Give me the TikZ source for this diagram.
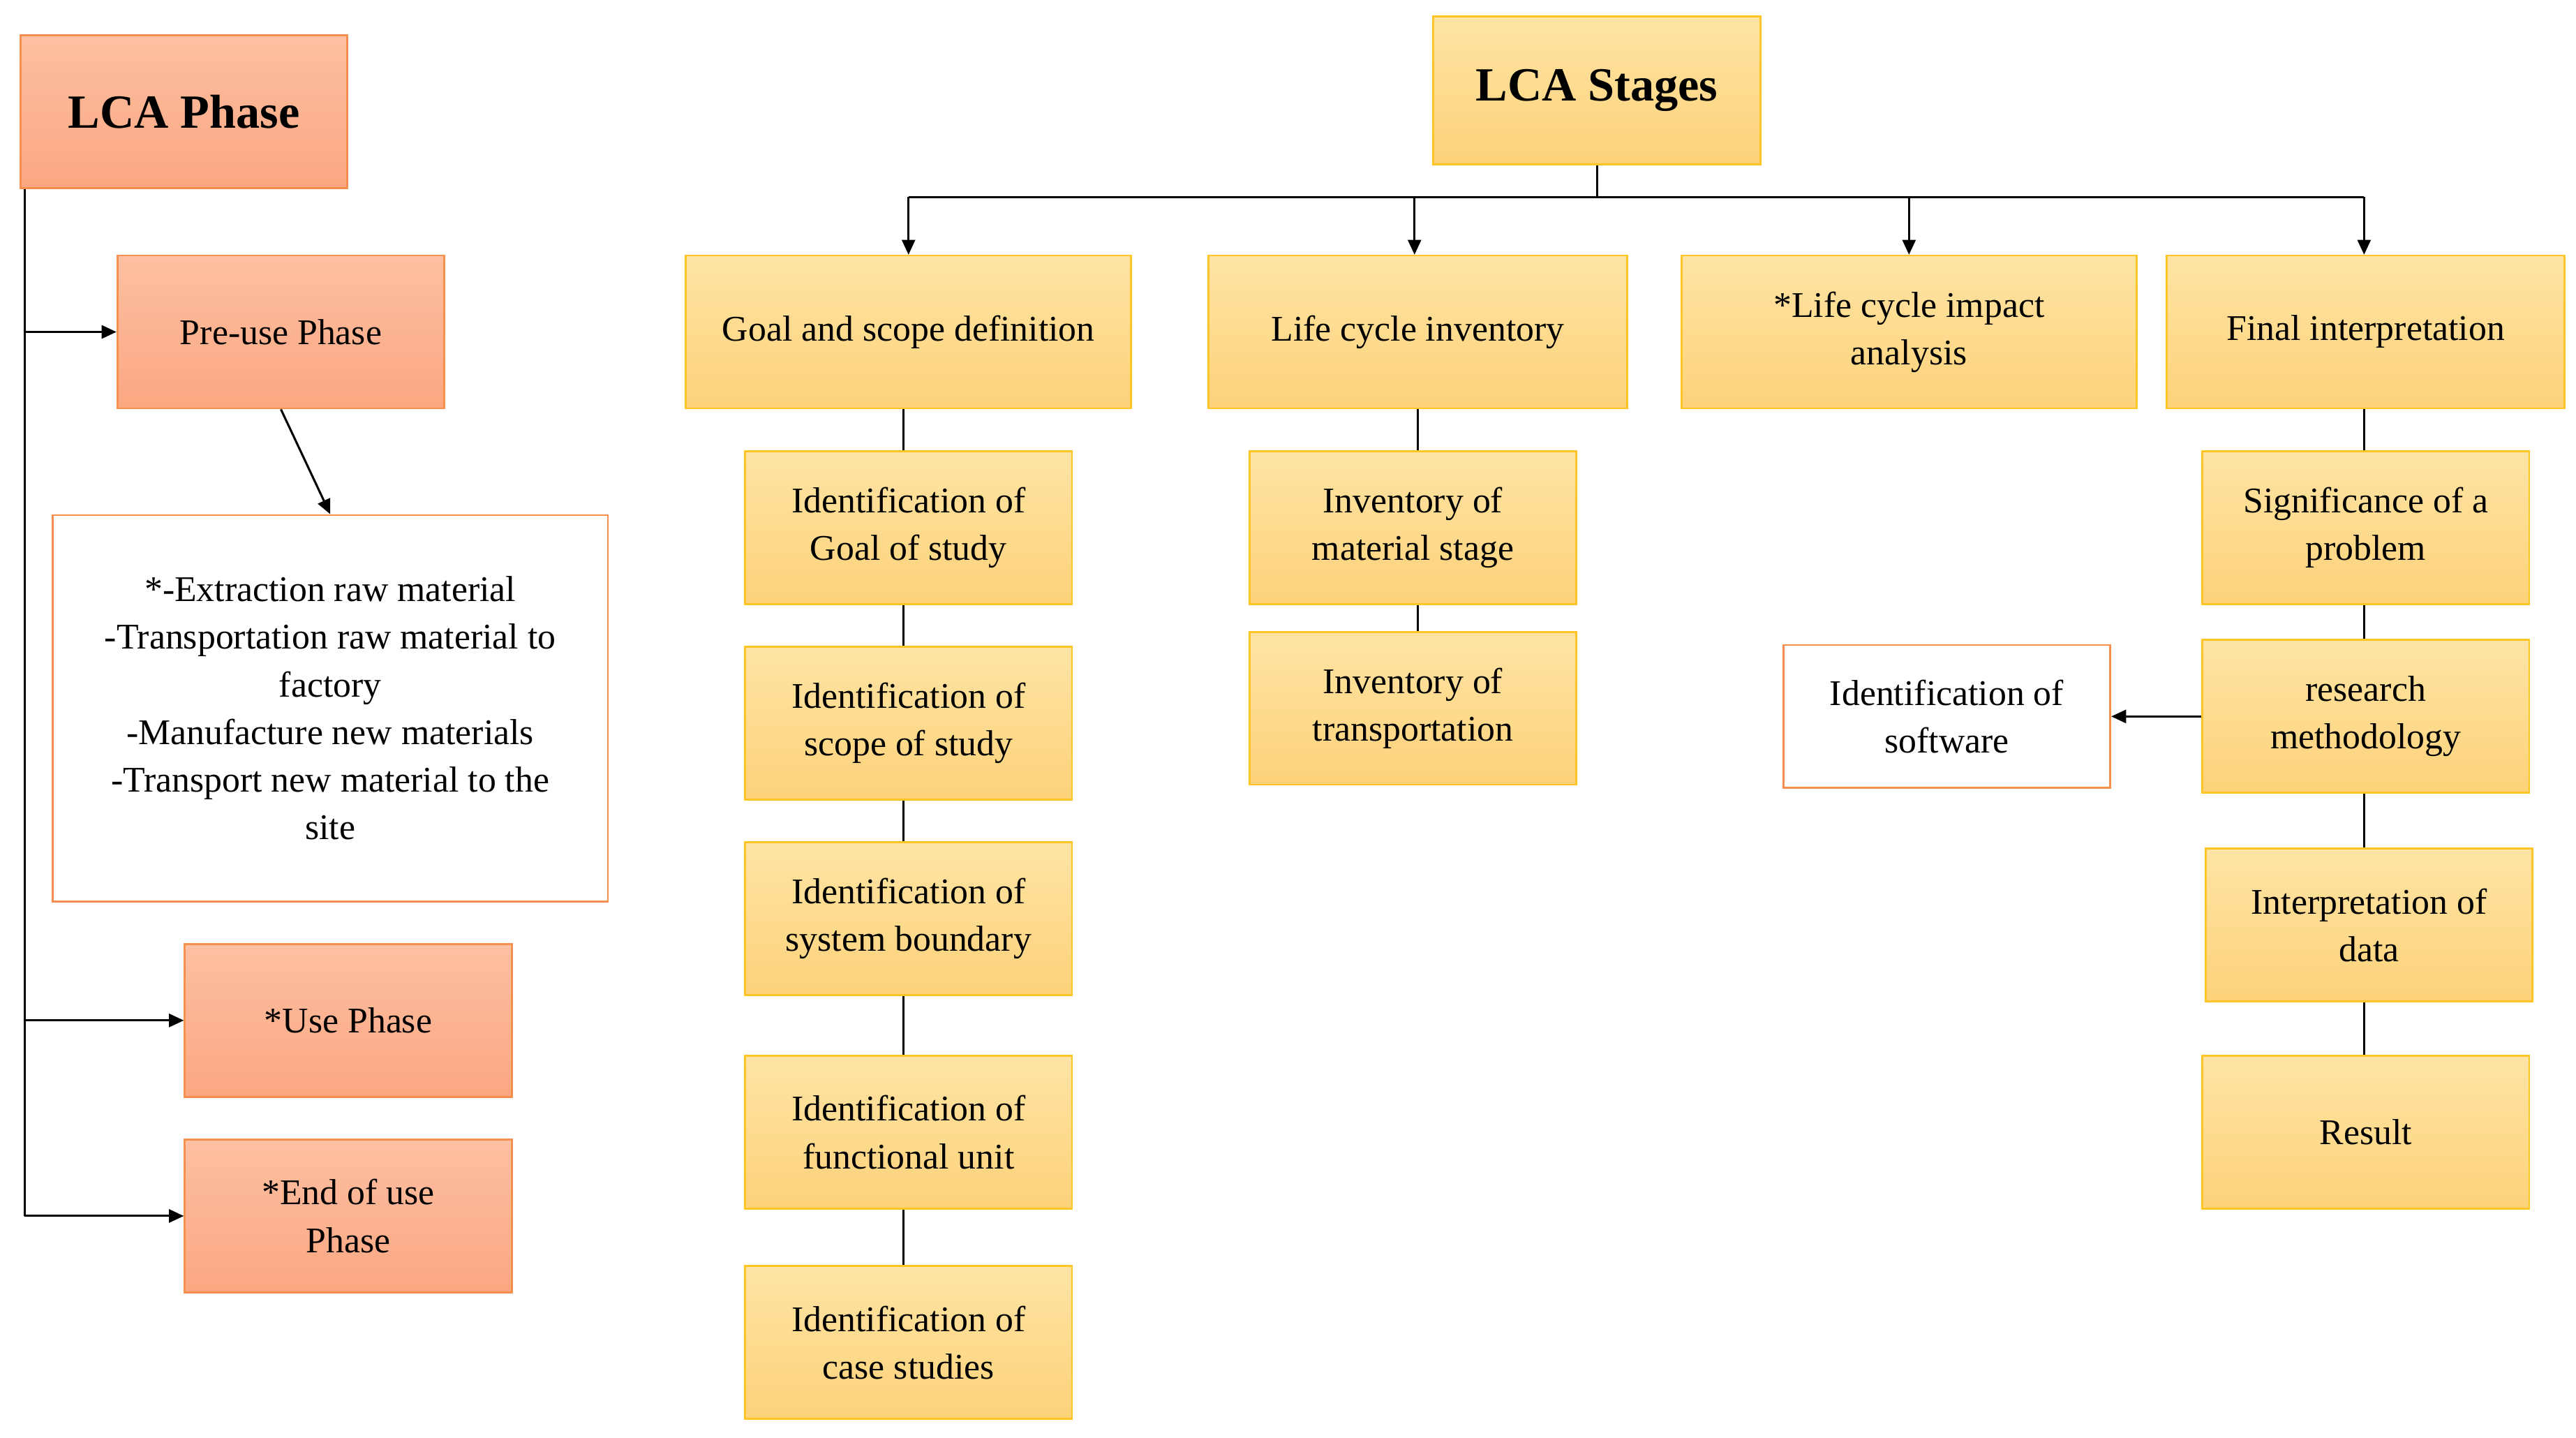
\documentclass[tikz,border=0pt]{standalone}
\usepackage{fontspec}
\setmainfont{Liberation Serif}
\usetikzlibrary{arrows.meta,positioning}
\definecolor{salmonTop}{HTML}{FDC0A2}
\definecolor{salmonBot}{HTML}{FBA681}
\definecolor{salmonLine}{HTML}{F7904E}
\definecolor{goldTop}{HTML}{FEE4A4}
\definecolor{goldBot}{HTML}{FDD27A}
\definecolor{goldLine}{HTML}{FFC526}
\begin{document}
\begin{tikzpicture}[
  x=1pt, y=-1pt,
  >={Triangle[length=9pt,width=8pt]},
  box/.style={draw, line width=1.2pt, align=center, inner sep=2pt,
    font=\fontsize{22}{29}\selectfont, minimum width=199pt, minimum height=93pt},
  phase/.style={box, draw=salmonLine, top color=salmonTop, bottom color=salmonBot},
  stage/.style={box, draw=goldLine, top color=goldTop, bottom color=goldBot},
  note/.style={box, draw=salmonLine, fill=white},
  link/.style={line width=1.3pt},
]
  \useasboundingbox (0,0) rectangle (1568,875);

  % LCA phase side
  \node[phase, font=\fontsize{29}{34}\selectfont\bfseries] (lcaphase) at (112,68) {LCA Phase};
  \node[phase] (preuse) at (171,202) {Pre-use Phase};
  \node[note, minimum width=338pt, minimum height=235pt] (preuselist) at (201,431)
    {*-Extraction raw material\\-Transportation raw material to\\factory\\-Manufacture new materials\\-Transport new material to the\\site};
  \node[phase] (use) at (212,621) {*Use Phase};
  \node[phase] (endofuse) at (212,740) {*End of use\\Phase};

  \coordinate (spine) at (15,115);
  \draw[link] (spine) -- (15,740);
  \draw[link,->] (15,202) -- (preuse.west);
  \draw[link,->] (15,621) -- (use.west);
  \draw[link,->] (15,740) -- (endofuse.west);
  \draw[link,->] (preuse.south) -- (preuselist.north);

  % LCA stages side
  \node[stage, font=\fontsize{29}{34}\selectfont\bfseries, minimum height=90pt] (lcastages) at (972,55) {LCA Stages};
  \node[stage, minimum width=271pt] (goal) at (553,202) {Goal and scope definition};
  \node[stage, minimum width=255pt] (inventory) at (863,202) {Life cycle inventory};
  \node[stage, minimum width=277pt] (impact) at (1162,202) {*Life cycle impact\\analysis};
  \node[stage, minimum width=242pt] (final) at (1440,202) {Final interpretation};

  \coordinate (bus) at (972,120);
  \draw[link] (lcastages.south) -- (bus);
  \draw[link] (553,120) -- (1439,120);
  \foreach \xb/\target in {553/goal, 861/inventory, 1162/impact, 1439/final}
    \draw[link,->] (\xb,120) -- (\xb,155);

  % goal column
  \node[stage] (goalstudy) at (553,321) {Identification of\\Goal of study};
  \node[stage] (scopestudy) at (553,440) {Identification of\\scope of study};
  \node[stage] (boundary) at (553,559) {Identification of\\system boundary};
  \node[stage] (funcunit) at (553,689) {Identification of\\functional unit};
  \node[stage] (casestudy) at (553,817) {Identification of\\case studies};
  \foreach \a/\b in {goal/goalstudy, goalstudy/scopestudy, scopestudy/boundary,
                     boundary/funcunit, funcunit/casestudy}
    \draw[link] (\a.south -| 550,0) -- (\b.north -| 550,0);

  % inventory column
  \node[stage] (material) at (860,321) {Inventory of\\material stage};
  \node[stage] (transport) at (860,431) {Inventory of\\transportation};
  \draw[link] (inventory.south -| 863,0) -- (material.north -| 863,0);
  \draw[link] (material.south -| 863,0) -- (transport.north -| 863,0);

  % interpretation column
  \node[stage] (significance) at (1440,321) {Significance of a\\problem};
  \node[stage] (method) at (1440,436) {research\\methodology};
  \node[stage] (datainterp) at (1442,563) {Interpretation of\\data};
  \node[stage] (result) at (1440,689) {Result};
  \node[note, minimum height=87pt] (software) at (1185,436) {Identification of\\software};
  \foreach \a/\b in {final/significance, significance/method, method/datainterp, datainterp/result}
    \draw[link] (\a.south -| 1439,0) -- (\b.north -| 1439,0);
  \draw[link,->] (method.west) -- (software.east);
\end{tikzpicture}
\end{document}
